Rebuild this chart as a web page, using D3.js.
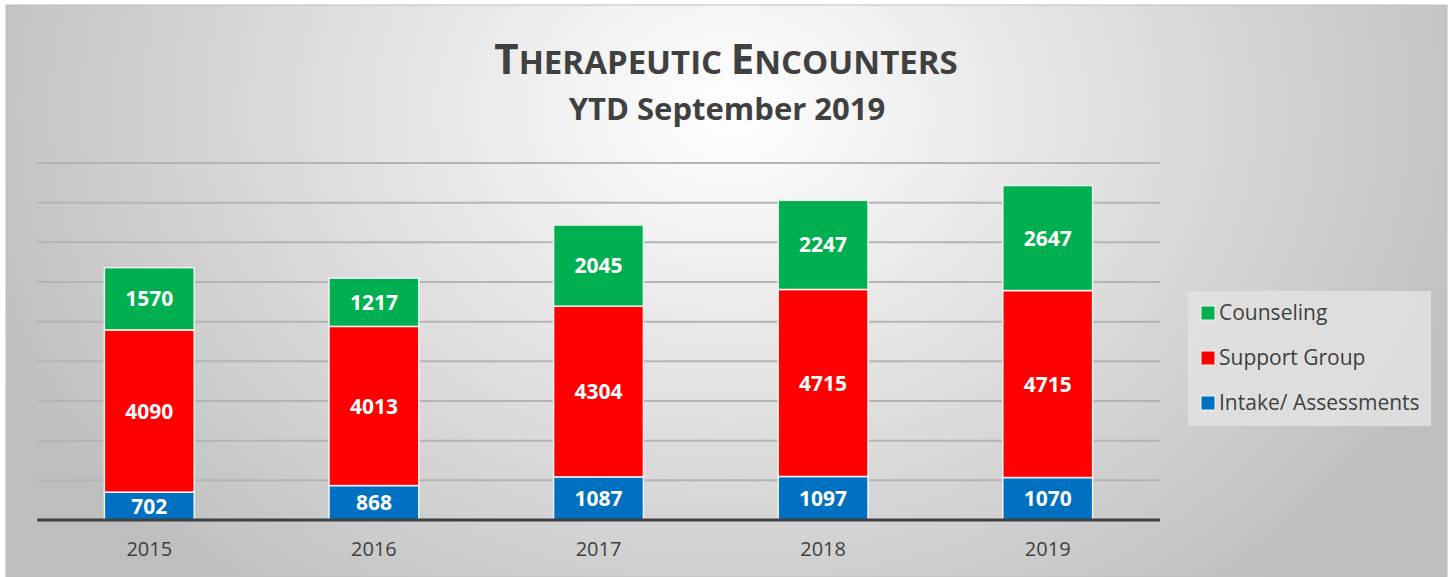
<!DOCTYPE html>
<html>
<head>
<meta charset="utf-8">
<script src="https://cdn.jsdelivr.net/npm/d3@7"></script>
<style>
  body { margin: 0; background: #fff; }
  text { font-family: "Open Sans", "Liberation Sans", sans-serif; }
</style>
</head>
<body>
<div id="chart"></div>
<script>
var width = 1452,
  height = 577;

// data
var years = ["2015", "2016", "2017", "2018", "2019"];
var intake = [702, 868, 1087, 1097, 1070];
var support = [4090, 4013, 4304, 4715, 4715];
var counseling = [1570, 1217, 2045, 2247, 2647];
var seriesNames = ["Intake/ Assessments", "Support Group", "Counseling"];
var seriesColors = ["#0070c0", "#ff0000", "#00b050"];
var gridTicks = [1000, 2000, 3000, 4000, 5000, 6000, 7000, 8000, 9000];

var rows = years.map(function (y, i) {
  return { year: y, "Intake/ Assessments": intake[i], "Support Group": support[i], "Counseling": counseling[i] };
});

var svg = d3.select("#chart").append("svg")
  .attr("width", width)
  .attr("height", height);

var defs = svg.append("defs");
var grad = defs.append("radialGradient")
  .attr("id", "bg")
  .attr("gradientUnits", "userSpaceOnUse")
  .attr("cx", 730).attr("cy", 110).attr("r", 800)
  .attr("gradientTransform", "translate(730,110) scale(1,0.8) translate(-730,-110)");
grad.append("stop").attr("offset", "0%").attr("stop-color", "#ffffff");
grad.append("stop").attr("offset", "100%").attr("stop-color", "#bebebe");

svg.append("rect")
  .attr("x", 6).attr("y", 5)
  .attr("width", 1441).attr("height", 572)
  .attr("fill", "url(#bg)")
  .attr("stroke", "#bdbdbd")
  .attr("stroke-width", 1);

// scales
var x = d3.scaleBand()
  .domain(years)
  .range([37, 1160])
  .paddingInner(0.6)
  .paddingOuter(0.3);

var y = d3.scaleLinear()
  .domain([0, 9000])
  .range([520, 163]);

// gridlines
svg.append("g")
  .selectAll("line")
  .data(gridTicks)
  .enter()
  .append("line")
  .attr("x1", 37)
  .attr("x2", 1160)
  .attr("y1", function (d) { return y(d); })
  .attr("y2", function (d) { return y(d); })
  .attr("stroke", "#b4b4b4")
  .attr("stroke-width", 2);

var stack = d3.stack().keys(seriesNames)(rows);

var layer = svg.append("g")
  .selectAll("g")
  .data(stack)
  .enter()
  .append("g")
  .attr("fill", function (d, i) { return seriesColors[i]; });

layer.selectAll("rect")
  .data(function (d) { return d; })
  .enter()
  .append("rect")
  .attr("x", function (d) { return x(d.data.year); })
  .attr("y", function (d) { return y(d[1]); })
  .attr("width", x.bandwidth())
  .attr("height", function (d) { return y(d[0]) - y(d[1]); })
  .attr("stroke", "#f2f2f2")
  .attr("stroke-width", 1.5);

layer.selectAll("text")
  .data(function (d) { return d; })
  .enter()
  .append("text")
  .attr("x", function (d) { return x(d.data.year) + x.bandwidth() / 2; })
  .attr("y", function (d) { return (y(d[0]) + y(d[1])) / 2; })
  .attr("dy", "0.36em")
  .attr("text-anchor", "middle")
  .attr("fill", "#fff")
  .attr("font-weight", "bold")
  .attr("font-size", 21)
  .text(function (d) { return d[1] - d[0]; });

// x axis
var xAxis = svg.append("g")
  .attr("transform", "translate(0,520)")
  .call(d3.axisBottom(x).tickSize(0).tickPadding(22));
xAxis.select(".domain")
  .attr("stroke", "#404040")
  .attr("stroke-width", 3)
  .attr("d", "M37,0H1160");
xAxis.selectAll("text")
  .attr("font-size", 20)
  .attr("fill", "#404040")
  .style("font-family", "'Open Sans', sans-serif");

// title
var title = svg.append("text")
  .attr("x", 726)
  .attr("y", 74)
  .attr("text-anchor", "middle")
  .attr("fill", "#404040")
  .attr("font-weight", "bold");
title.append("tspan").attr("font-size", 42).text("T");
title.append("tspan").attr("font-size", 33).text("HERAPEUTIC ");
title.append("tspan").attr("font-size", 42).text("E");
title.append("tspan").attr("font-size", 33).text("NCOUNTERS");

svg.append("text")
  .attr("x", 727)
  .attr("y", 120)
  .attr("text-anchor", "middle")
  .attr("fill", "#404040")
  .attr("font-weight", "bold")
  .attr("font-size", 31)
  .text("YTD September 2019");

// legend
var legend = svg.append("g");
legend.append("rect")
  .attr("x", 1188).attr("y", 291)
  .attr("width", 243).attr("height", 135)
  .attr("fill", "#e2e2e2")
  .attr("opacity", 0.85);

var legendOrder = ["Counseling", "Support Group", "Intake/ Assessments"];
var li = legend.selectAll(".item")
  .data(legendOrder)
  .enter()
  .append("g")
  .attr("class", "item")
  .attr("transform", function (d, i) { return "translate(1201," + (313 + i * 45) + ")"; });
li.append("rect")
  .attr("x", 0).attr("y", -7)
  .attr("width", 14).attr("height", 14)
  .attr("fill", function (d) { return seriesColors[seriesNames.indexOf(d)]; })
  .attr("stroke", "#f2f2f2");
li.append("text")
  .attr("x", 18)
  .attr("dy", "0.35em")
  .attr("font-size", 21)
  .attr("fill", "#404040")
  .text(function (d) { return d; });
</script>
</body>
</html>
